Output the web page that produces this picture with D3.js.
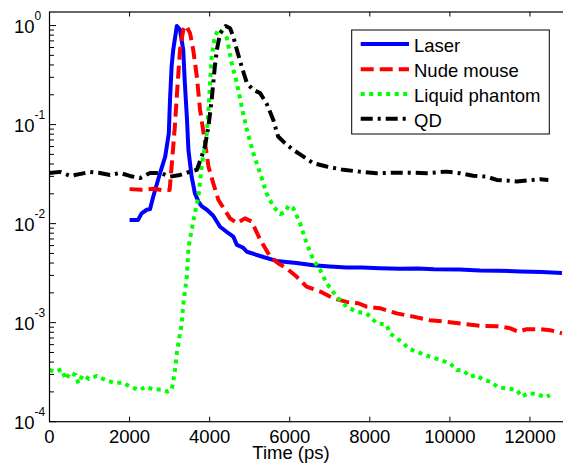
<!DOCTYPE html>
<html>
<head>
<meta charset="utf-8">
<script src="https://cdn.jsdelivr.net/npm/d3@7"></script>
<style>
body { margin: 0; background: #fff; }
text { font-family: "Liberation Sans", Arial, sans-serif; fill: #000; }
</style>
</head>
<body>
<svg id="chart" width="563" height="463"></svg>
<script>
// time (ps), normalised intensity
var laser = [
  [2000,0.0109],[2210,0.0109],[2300,0.0127],[2430,0.0138],[2510,0.0140],[2590,0.0187],[2680,0.0250],
  [2760,0.0323],[2890,0.0475],[2980,0.0818],[3010,0.178],[3050,0.385],[3090,0.568],[3180,0.99],
  [3260,0.905],[3340,0.568],[3380,0.264],[3430,0.120],[3470,0.0554],[3550,0.0298],[3630,0.0203],
  [3720,0.0167],[3800,0.0150],[3930,0.0138],[4090,0.0120],[4260,0.0093],[4470,0.0080],[4590,0.0074],
  [4680,0.0061],[4840,0.0057],[4930,0.0052],[5340,0.0046],[5670,0.0042],[6170,0.0040],[6590,0.0038],
  [7000,0.0037],[7420,0.0036],[7800,0.0036],[8250,0.00354],[8750,0.0035],[9200,0.00352],[9600,0.00346],
  [10250,0.00345],[10750,0.00337],[11200,0.00335],[11750,0.00329],[12300,0.00325],[12800,0.00318]
];
var nudeMouse = [
  [2000,0.0223],[2300,0.0220],[2600,0.0225],[2800,0.0218],[3000,0.0218],[3050,0.0377],[3130,0.0955],
  [3190,0.224],[3260,0.568],[3340,0.905],[3410,1.0],[3510,0.838],[3590,0.568],[3680,0.305],[3760,0.141],
  [3860,0.0765],[3970,0.0377],[4090,0.0256],[4220,0.0173],[4340,0.0145],[4510,0.0113],[4680,0.0101],
  [4880,0.0113],[5050,0.0105],[5260,0.0069],[5510,0.00464],[5710,0.00398],[5920,0.00354],[6170,0.00292],
  [6420,0.00231],[6760,0.00206],[7090,0.00176],[7420,0.00162],[7710,0.00157],[7920,0.00145],[8250,0.0014],
  [8670,0.00124],[9090,0.00115],[9500,0.00106],[9920,0.00102],[10340,0.00097],[10750,0.00093],
  [11170,0.00092],[11500,0.00088],[11710,0.00081],[11920,0.00086],[12250,0.00086],[12500,0.00084],
  [12800,0.00078]
];
var liquidPhantom = [
  [0,0.000333],[140,0.00032],[300,0.000338],[410,0.000268],[510,0.000313],[660,0.000296],[720,0.000244],
  [830,0.000296],[990,0.00027],[1180,0.00029],[1390,0.000264],[1610,0.000248],[1840,0.000248],
  [2050,0.000222],[2260,0.000209],[2400,0.000226],[2580,0.000212],[2780,0.000212],[2950,0.000201],
  [3050,0.000209],[3090,0.000254],[3130,0.00032],[3180,0.000491],[3220,0.00062],[3260,0.00078],
  [3300,0.00095],[3340,0.00151],[3430,0.00292],[3470,0.00565],[3550,0.00863],[3630,0.0127],[3720,0.0187],
  [3800,0.0377],[3880,0.060],[3930,0.0818],[3970,0.141],[4010,0.262],[4050,0.486],[4130,0.774],
  [4220,0.92],[4340,0.838],[4430,0.746],[4550,0.417],[4680,0.262],[4800,0.152],[4930,0.0884],
  [5090,0.0514],[5260,0.0323],[5420,0.0203],[5590,0.0149],[5760,0.0125],[5880,0.0130],[5970,0.0152],
  [6090,0.0143],[6260,0.0100],[6420,0.00634],[6590,0.00431],[6760,0.0034],[6920,0.0025],[7170,0.00183],
  [7420,0.00145],[7670,0.00129],[7920,0.00124],[8170,0.00099],[8420,0.00095],[8500,0.00078],
  [8670,0.000695],[8840,0.00062],[8960,0.000551],[9170,0.000509],[9500,0.000454],[9750,0.00042],
  [10000,0.000389],[10170,0.000333],[10340,0.000328],[10500,0.000285],[10670,0.000296],[10830,0.000264],
  [11000,0.000254],[11210,0.000222],[11420,0.000217],[11670,0.000209],[11790,0.000179],[11960,0.000194],
  [12170,0.00019],[12380,0.000176],[12500,0.000186]
];
var qd = [
  [0,0.0325],[260,0.0333],[520,0.0303],[780,0.0318],[1010,0.0333],[1260,0.0325],[1510,0.031],
  [1760,0.0325],[2010,0.0303],[2260,0.0288],[2510,0.0325],[2760,0.0325],[3010,0.0298],[3260,0.031],
  [3510,0.0335],[3680,0.0349],[3800,0.0475],[3880,0.060],[3970,0.0955],[4050,0.178],[4130,0.385],
  [4180,0.568],[4260,0.838],[4400,0.99],[4510,0.94],[4590,0.774],[4680,0.568],[4800,0.385],[4930,0.262],
  [5090,0.224],[5260,0.208],[5420,0.164],[5590,0.111],[5710,0.0757],[5880,0.065],[6090,0.0554],
  [6260,0.050],[6590,0.0407],[6920,0.0377],[7340,0.0349],[7750,0.0335],[8170,0.0323],[8590,0.0327],
  [9000,0.0327],[9420,0.0323],[9920,0.0335],[10250,0.0323],[10580,0.0304],[10920,0.0298],[11170,0.0276],
  [11420,0.0272],[11670,0.0266],[11920,0.0272],[12250,0.028],[12460,0.0276]
];
var seriesNames = ["Laser", "Nude mouse", "Liquid phantom", "QD"];
var xTicks = [0, 2000, 4000, 6000, 8000, 10000, 12000];
var yExponents = [-4, -3, -2, -1, 0];

var series = [
  {name: seriesNames[0], data: laser, color: '#0000ff', dash: null},
  {name: seriesNames[1], data: nudeMouse, color: '#ff0000', dash: '13,6'},
  {name: seriesNames[2], data: liquidPhantom, color: '#00ff00', dash: '4,4.5'},
  {name: seriesNames[3], data: qd, color: '#000000', dash: '12,5,3,5'}
];

var pLeft = 49.5, pTop = 12, pBottom = 421.7, pRight = 570;
var svg = d3.select("#chart");

var x = d3.scaleLinear().domain([0, 13000]).range([pLeft, pRight]);
var y = d3.scaleLog().domain([1e-4, 1.37]).range([pBottom, pTop]);

svg.append("defs").append("clipPath").attr("id", "plotclip")
  .append("rect").attr("x", pLeft).attr("y", pTop)
  .attr("width", pRight - pLeft).attr("height", pBottom - pTop);

var line = d3.line()
  .x(function(d) { return x(d[0]); })
  .y(function(d) { return y(d[1]); });

var plot = svg.append("g").attr("clip-path", "url(#plotclip)");
series.forEach(function(s) {
  plot.append("path")
    .attr("d", line(s.data))
    .attr("fill", "none")
    .attr("stroke", s.color)
    .attr("stroke-width", 4)
    .attr("stroke-linejoin", "round")
    .attr("stroke-dasharray", s.dash);
});

// axes box
svg.append("rect")
  .attr("x", pLeft).attr("y", pTop)
  .attr("width", pRight - pLeft).attr("height", pBottom - pTop)
  .attr("fill", "none").attr("stroke", "#000").attr("stroke-width", 1.2);

// x ticks (inward, bottom and top)
var xt = svg.append("g");
xTicks.forEach(function(t) {
  xt.append("line").attr("x1", x(t)).attr("x2", x(t))
    .attr("y1", pBottom).attr("y2", pBottom - 5).attr("stroke", "#000");
  xt.append("line").attr("x1", x(t)).attr("x2", x(t))
    .attr("y1", pTop).attr("y2", pTop + 4.5).attr("stroke", "#000");
  xt.append("text").attr("x", x(t)).attr("y", 442.7)
    .attr("text-anchor", "middle").style("font-size", "18.5px").text(t);
});

// y ticks (log, major + minor)
var yt = svg.append("g");
yExponents.forEach(function(e) {
  var v = Math.pow(10, e);
  yt.append("line").attr("x1", pLeft).attr("x2", pLeft + 6.5)
    .attr("y1", y(v)).attr("y2", y(v)).attr("stroke", "#000");
  yt.append("text").attr("x", 34.5).attr("y", y(v) + 7.7)
    .attr("text-anchor", "end").style("font-size", "18.5px").text("10");
  yt.append("text").attr("x", 34.6).attr("y", y(v) - 5.5)
    .style("font-size", "12px").text(e);
  if (e < 0) {
    for (var k = 2; k <= 9; k++) {
      yt.append("line").attr("x1", pLeft).attr("x2", pLeft + 4.5)
        .attr("y1", y(k * v)).attr("y2", y(k * v)).attr("stroke", "#000");
    }
  }
});

svg.append("text").attr("x", 291).attr("y", 459)
  .attr("text-anchor", "middle").style("font-size", "18.5px").text("Time (ps)");

// legend
var lg = svg.append("g");
lg.append("rect").attr("x", 351.7).attr("y", 30).attr("width", 197.6).attr("height", 104)
  .attr("fill", "#fff").attr("stroke", "#000").attr("stroke-width", 1);
var rowY = [44, 69.3, 94, 118.7];
series.forEach(function(s, i) {
  lg.append("line").attr("x1", 360.7).attr("x2", 409)
    .attr("y1", rowY[i]).attr("y2", rowY[i])
    .attr("stroke", s.color).attr("stroke-width", 4)
    .attr("stroke-dasharray", s.dash);
  lg.append("text").attr("x", 414).attr("y", rowY[i] + 8)
    .style("font-size", "18.5px").text(s.name);
});
</script>
</body>
</html>
